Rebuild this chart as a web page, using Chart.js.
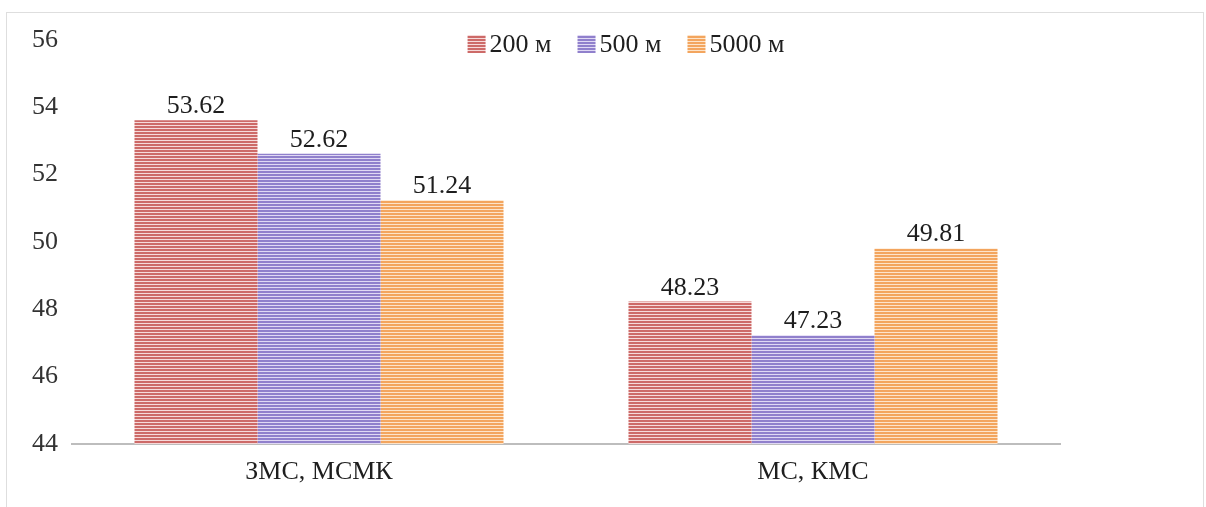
<!DOCTYPE html>
<html>
<head>
<meta charset="utf-8">
<script src="https://cdn.jsdelivr.net/npm/chart.js@4.4.1/dist/chart.umd.min.js"></script>
<style>
  html, body { margin: 0; padding: 0; background: #fff; }
  #wrap { position: relative; width: 1206px; height: 507px; overflow: hidden; }
  #frame { position: absolute; left: 6px; top: 12px; width: 1196px; height: 510px; border: 1px solid #dedede; }
  #chart { position: absolute; left: 0; top: 0; }
</style>
</head>
<body>
<div id="wrap">
  <div id="frame"></div>
  <canvas id="chart" width="1206" height="507"></canvas>
</div>
<script>
var categories = ['ЗМС, МСМК', 'МС, КМС'];
var seriesLabels = ['200 м', '500 м', '5000 м'];
var values200 = [53.62, 48.23];
var values500 = [52.62, 47.23];
var values5000 = [51.24, 49.81];
var yMin = 44, yMax = 56, yStep = 2;

var FONT = "'Liberation Serif', 'DejaVu Serif', serif";
var TEXT_COLOR = '#1e1e1e';

// narrow horizontal stripes: 2px colour, 1px light
function stripes(line, gap) {
    var c = document.createElement('canvas');
    c.width = 4;
    c.height = 3;
    var g = c.getContext('2d');
    g.fillStyle = gap;
    g.fillRect(0, 0, 4, 3);
    g.fillStyle = line;
    g.fillRect(0, 0, 4, 2);
    return g.createPattern(c, 'repeat');
}

var ctx = document.getElementById('chart').getContext('2d');
var fills = [
    stripes('#cd6a68', '#f6dada'),
    stripes('#9080cc', '#e0d9f4'),
    stripes('#f3a55e', '#fde4ca')
];

// value above every bar
var barLabels = {
    id: 'barLabels',
    afterDatasetsDraw: function (chart) {
        var c = chart.ctx;
        c.save();
        c.font = '26px ' + FONT;
        c.fillStyle = TEXT_COLOR;
        c.textAlign = 'center';
        c.textBaseline = 'alphabetic';
        chart.data.datasets.forEach(function (ds, i) {
            chart.getDatasetMeta(i).data.forEach(function (bar, j) {
                c.fillText(ds.data[j].toFixed(2), bar.x, bar.y - 7);
            });
        });
        c.restore();
    }
};

// legend laid over the top of the plot
var overlayLegend = {
    id: 'overlayLegend',
    afterDraw: function (chart) {
        var c = chart.ctx;
        var box = 18, gapText = 4, gapItem = 26;
        var centerX = 626, centerY = 44;
        c.save();
        c.font = '26px ' + FONT;
        var widths = chart.data.datasets.map(function (ds) { return c.measureText(ds.label).width; });
        var total = 0;
        widths.forEach(function (w, i) { total += box + gapText + w + (i ? gapItem : 0); });
        var x = centerX - total / 2;
        chart.data.datasets.forEach(function (ds, i) {
            c.fillStyle = ds.backgroundColor;
            c.fillRect(x, centerY - box / 2, box, box);
            c.fillStyle = TEXT_COLOR;
            c.textAlign = 'left';
            c.textBaseline = 'middle';
            c.fillText(ds.label, x + box + gapText, centerY + 1);
            x += box + gapText + widths[i] + gapItem;
        });
        c.restore();
    }
};

new Chart(ctx, {
    type: 'bar',
    data: {
        labels: categories,
        datasets: [
            { label: seriesLabels[0], data: values200, backgroundColor: fills[0] },
            { label: seriesLabels[1], data: values500, backgroundColor: fills[1] },
            { label: seriesLabels[2], data: values5000, backgroundColor: fills[2] }
        ]
    },
    options: {
        responsive: false,
        animation: false,
        layout: { padding: { top: 40, right: 146, bottom: 0, left: 0 } },
        datasets: { bar: { categoryPercentage: 0.747, barPercentage: 1.0, borderWidth: 0 } },
        plugins: {
            legend: { display: false },
            tooltip: { enabled: false }
        },
        scales: {
            x: {
                grid: { display: false, drawTicks: false },
                border: { display: true, color: '#bdbdbd', width: 2 },
                ticks: { padding: 13, color: TEXT_COLOR, font: { family: FONT, size: 26 } },
                afterFit: function (scale) { scale.height = 63; }
            },
            y: {
                min: yMin,
                max: yMax,
                grid: { display: false, drawTicks: false },
                border: { display: false },
                ticks: { stepSize: yStep, padding: 14, color: '#333', font: { family: FONT, size: 26 } },
                afterFit: function (scale) { scale.width = 72; }
            }
        }
    },
    plugins: [barLabels, overlayLegend]
});
</script>
</body>
</html>
